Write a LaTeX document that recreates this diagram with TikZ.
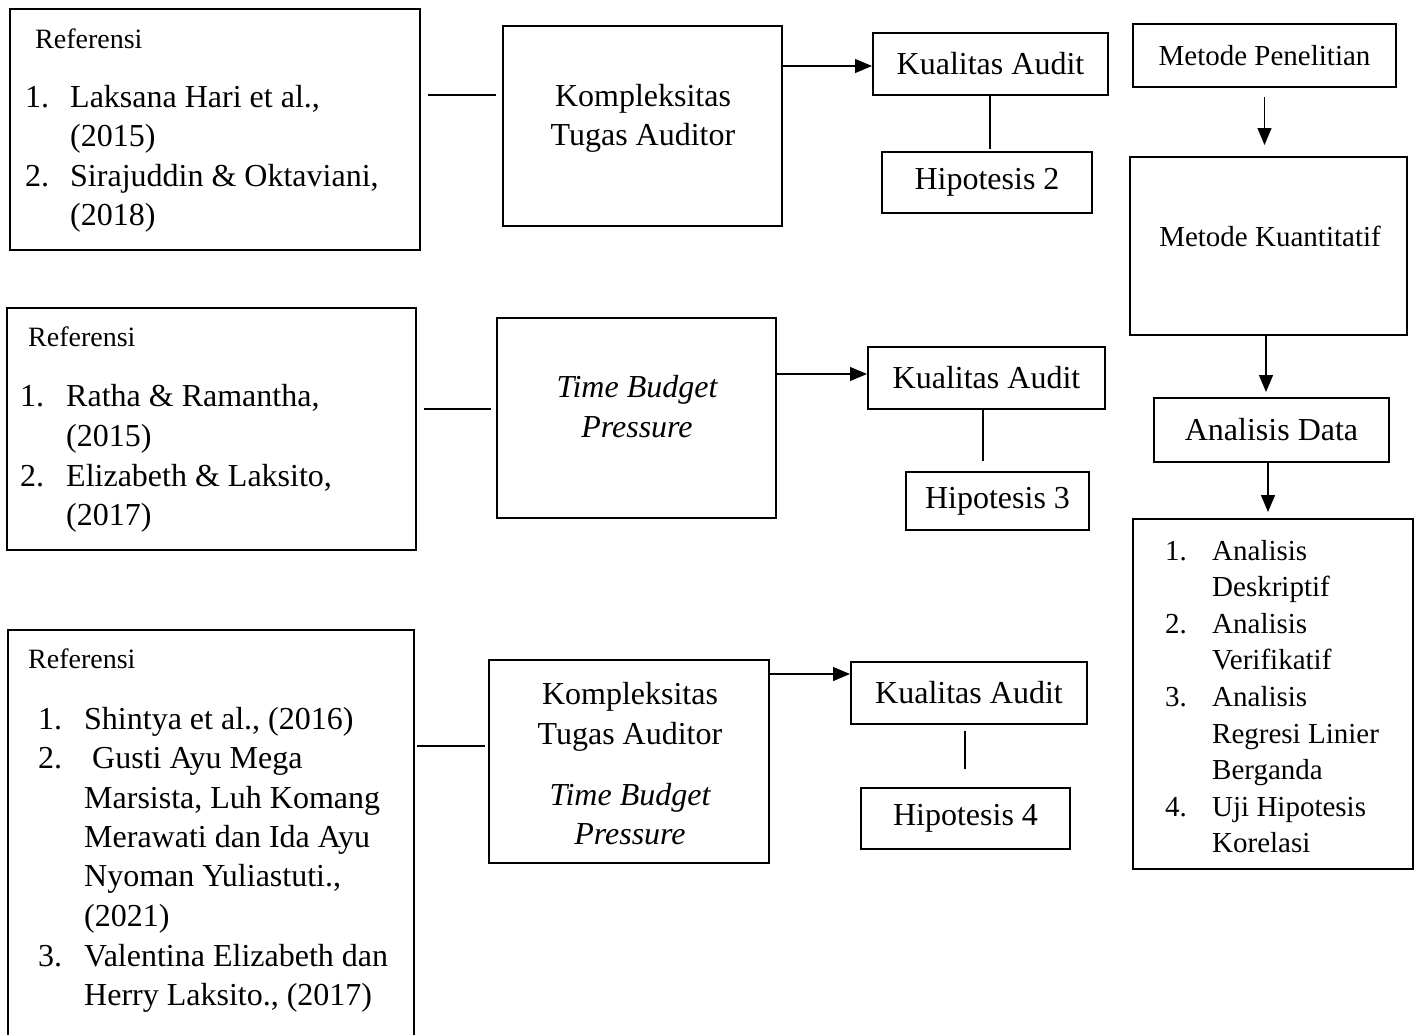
\documentclass[tikz,border=0pt]{standalone}
\usepackage{fontspec}
\setmainfont{Liberation Serif}
\usetikzlibrary{arrows.meta}
\begin{document}
\begin{tikzpicture}[x=1pt,y=-1pt,
  box/.style={draw, line width=2pt, inner sep=0pt},
  big/.style={font=\fontsize{32}{39}\selectfont},
  sml/.style={font=\fontsize{28}{34}\selectfont},
  lst/.style={font=\fontsize{29}{36}\selectfont},
  txt/.style={inner sep=0pt, anchor=base west},
  ctxt/.style={inner sep=0pt, anchor=base},
  conn/.style={line width=1.2pt},
  arr/.style={line width=1.2pt, -{Triangle[length=17pt,width=14pt]}},
]
\useasboundingbox (0,0) rectangle (1414,1034);
\clip (0,0) rectangle (1414,1034);

% ---------- boxes ----------
\node[box, minimum width=410, minimum height=241] (A1) at (215,129.5) {};
\node[box, minimum width=279, minimum height=200] (K1) at (642.5,126) {};
\node[box, big, minimum width=235, minimum height=62] (KA1) at (990.5,64) {Kualitas Audit};
\node[box, big, minimum width=210, minimum height=61] (H2) at (987,182.5) {Hipotesis 2};

\node[box, lst, minimum width=263, minimum height=63] (MP) at (1264.5,55.5) {Metode Penelitian};
\node[box, minimum width=277, minimum height=178] (MK) at (1268.5,246) {};
\node[box, big, minimum width=235, minimum height=64] (AD) at (1271.5,430) {Analisis Data};
\node[box, minimum width=280, minimum height=350] (LST) at (1273,694) {};

\node[box, minimum width=409, minimum height=242] (A2) at (211.5,429) {};
\node[box, minimum width=279, minimum height=200] (T2) at (636.5,418) {};
\node[box, big, minimum width=237, minimum height=62] (KA2) at (986.5,378) {Kualitas Audit};
\node[box, big, minimum width=183, minimum height=58] (H3) at (997.5,501) {Hipotesis 3};

\node[box, minimum width=406, minimum height=420] (A3) at (211,840) {};
\node[box, minimum width=280, minimum height=203] (K3) at (629,761.5) {};
\node[box, big, minimum width=236, minimum height=62] (KA3) at (969,693) {Kualitas Audit};
\node[box, big, minimum width=209, minimum height=61] (H4) at (965.5,818.5) {Hipotesis 4};

% ---------- helper coordinates ----------
\coordinate (y1) at (0,95);
\coordinate (y1a) at (0,66);
\coordinate (x1) at (990,0);
\coordinate (y2) at (0,409);
\coordinate (y2a) at (0,374);
\coordinate (x2) at (983,0);
\coordinate (y3) at (0,746);
\coordinate (y3a) at (0,674);
\coordinate (x3) at (965,0);
\coordinate (xr) at (1266,0);
\coordinate (xr2) at (1268,0);

% ---------- connectors ----------
\draw[conn, shorten <=7pt, shorten >=6pt] (A1.east |- y1) -- (K1.west |- y1);
\draw[arr] (K1.east |- y1a) -- (KA1.west |- y1a);
\draw[conn, shorten >=2pt] (KA1.south -| x1) -- (H2.north -| x1);

\draw[conn, shorten <=7pt, shorten >=5pt] (A2.east |- y2) -- (T2.west |- y2);
\draw[arr] (T2.east |- y2a) -- (KA2.west |- y2a);
\draw[conn, shorten >=10pt] (KA2.south -| x2) -- (H3.north -| x2);

\draw[conn, shorten <=2pt, shorten >=3pt] (A3.east |- y3) -- (K3.west |- y3);
\draw[arr] (K3.east |- y3a) -- (KA3.west |- y3a);
\draw[conn, shorten <=6pt, shorten >=18pt] (KA3.south -| x3) -- (H4.north -| x3);

\draw[arr, shorten <=9pt, shorten >=11pt] (MP.south) -- (MP.south |- MK.north);
\draw[arr, shorten >=5pt] (MK.south -| xr) -- (AD.north -| xr);
\draw[arr, shorten >=6pt] (AD.south -| xr2) -- (LST.north -| xr2);

% ---------- row 1 texts ----------
\node[txt, sml] (r1t) at (35,48) {Referensi};
\node[txt, big] (r1n1) at (25,107) {1.};
\node[txt, big] (r1a) at (70,107) {Laksana Hari et al.,};
\node[txt, big] (r1b) at (70,146) {(2015)};
\node[txt, big] (r1n2) at (25,186) {2.};
\node[txt, big] (r1c) at (70,186) {Sirajuddin \& Oktaviani,};
\node[txt, big] (r1d) at (70,225) {(2018)};
\node[ctxt, big] (k1a) at (643,106) {Kompleksitas};
\node[ctxt, big] (k1b) at (643,145) {Tugas Auditor};

% ---------- row 2 texts ----------
\node[txt, sml] (r2t) at (28,346) {Referensi};
\node[txt, big] (r2n1) at (20,406) {1.};
\node[txt, big] (r2a) at (66,406) {Ratha \& Ramantha,};
\node[txt, big] (r2b) at (66,446) {(2015)};
\node[txt, big] (r2n2) at (20,486) {2.};
\node[txt, big] (r2c) at (66,486) {Elizabeth \& Laksito,};
\node[txt, big] (r2d) at (66,525) {(2017)};
\node[ctxt, big] (t2a) at (637,397) {\itshape Time Budget};
\node[ctxt, big] (t2b) at (637,437) {\itshape Pressure};

% ---------- row 3 texts ----------
\node[txt, sml] (r3t) at (28,668) {Referensi};
\node[txt, big] (r3n1) at (38,729) {1.};
\node[txt, big] (r3a) at (84,729) {Shintya et al., (2016)};
\node[txt, big] (r3n2) at (38,768) {2.};
\node[txt, big] (r3b) at (92,768) {Gusti Ayu Mega};
\node[txt, big] (r3c) at (84,808) {Marsista, Luh Komang};
\node[txt, big] (r3d) at (84,847) {Merawati dan Ida Ayu};
\node[txt, big] (r3e) at (84,886) {Nyoman Yuliastuti.,};
\node[txt, big] (r3f) at (84,926) {(2021)};
\node[txt, big] (r3n3) at (38,966) {3.};
\node[txt, big] (r3g) at (84,966) {Valentina Elizabeth dan};
\node[txt, big] (r3h) at (84,1005) {Herry Laksito., (2017)};
\node[ctxt, big] (k3a) at (630,704) {Kompleksitas};
\node[ctxt, big] (k3b) at (630,744) {Tugas Auditor};
\node[ctxt, big] (k3c) at (630,805) {\itshape Time Budget};
\node[ctxt, big] (k3d) at (630,844) {\itshape Pressure};

% ---------- right column texts ----------
\node[ctxt, lst] (mkt) at (1270,246) {Metode Kuantitatif};
\node[txt, lst] (l1n) at (1165,560) {1.};
\node[txt, lst] (l1a) at (1212,560) {Analisis};
\node[txt, lst] (l1b) at (1212,596) {Deskriptif};
\node[txt, lst] (l2n) at (1165,633) {2.};
\node[txt, lst] (l2a) at (1212,633) {Analisis};
\node[txt, lst] (l2b) at (1212,669) {Verifikatif};
\node[txt, lst] (l3n) at (1165,706) {3.};
\node[txt, lst] (l3a) at (1212,706) {Analisis};
\node[txt, lst] (l3b) at (1212,743) {Regresi Linier};
\node[txt, lst] (l3c) at (1212,779) {Berganda};
\node[txt, lst] (l4n) at (1165,816) {4.};
\node[txt, lst] (l4a) at (1212,816) {Uji Hipotesis};
\node[txt, lst] (l4b) at (1212,852) {Korelasi};
\end{tikzpicture}
\end{document}
